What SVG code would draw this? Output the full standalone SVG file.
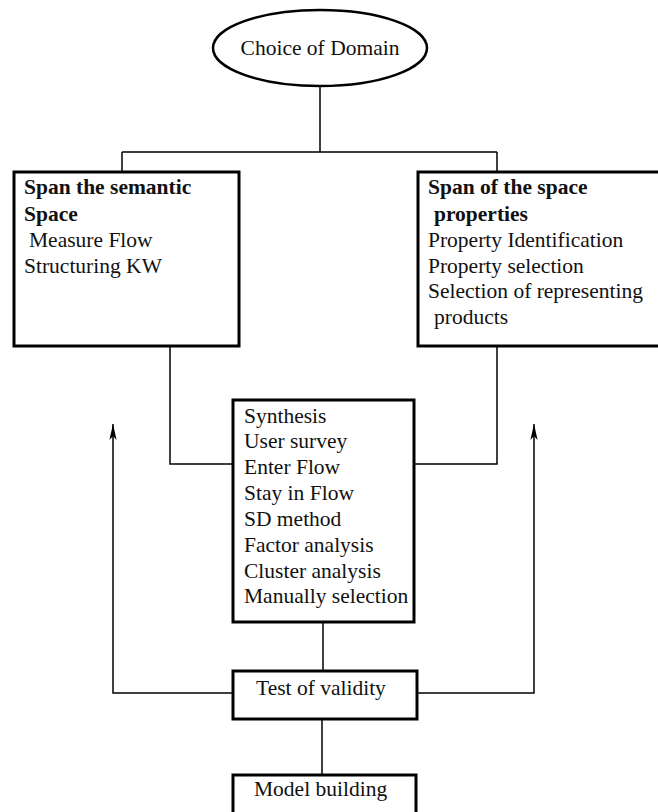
<svg xmlns="http://www.w3.org/2000/svg" width="658" height="812" viewBox="0 0 658 812">
  <style>
    .box { fill: #ffffff; stroke: #000000; stroke-width: 3; }
    .oval { fill: #ffffff; stroke: #000000; stroke-width: 2.5; }
    .wire { fill: none; stroke: #000000; stroke-width: 1.5; }
    .t { font-family: "Liberation Serif", "Times New Roman", serif; font-size: 21.5px; fill: #111111; }
    .b { font-weight: bold; }
  </style>
  <defs>
    <!-- narrow filled arrowhead with a notched back, tip on the path end -->
    <marker id="head" viewBox="0 0 16 8" refX="16" refY="4" markerWidth="16" markerHeight="8" markerUnits="userSpaceOnUse" orient="auto">
      <path d="M16 4 L0 7.6 L4 4 L0 0.4 Z" fill="#000000"/>
    </marker>
  </defs>
  <rect width="658" height="812" fill="#ffffff"/>

  <!-- connectors -->
  <g id="connectors">
    <path class="wire" d="M320 86 V152 M122 152 H497 M122 152 V172 M497 152 V172"/>
    <path class="wire" d="M170 346 V464 H233"/>
    <path class="wire" d="M497 346 V464 H414"/>
    <path class="wire" d="M323 622 V671"/>
    <path class="wire" d="M322 719 V775"/>
    <path class="wire" d="M233 693 H113 V424" marker-end="url(#head)"/>
    <path class="wire" d="M417 693 H534 V424" marker-end="url(#head)"/>
  </g>

  <g id="domain">
    <ellipse class="oval" cx="320" cy="48" rx="107" ry="38"/>
    <text class="t" x="320" y="55" text-anchor="middle">Choice of Domain</text>
  </g>

  <g id="semantic-space">
    <rect class="box" x="14" y="172" width="225" height="174"/>
    <text class="t b" x="24" y="194">Span the semantic</text>
    <text class="t b" x="24" y="221">Space</text>
    <text class="t" x="29" y="247">Measure Flow</text>
    <text class="t" x="24" y="273">Structuring KW</text>
  </g>

  <g id="space-properties">
    <rect class="box" x="418" y="172" width="250" height="174"/>
    <text class="t b" x="428" y="194">Span of the space</text>
    <text class="t b" x="434" y="221">properties</text>
    <text class="t" x="428" y="247">Property Identification</text>
    <text class="t" x="428" y="273">Property selection</text>
    <text class="t" x="428" y="298">Selection of representing</text>
    <text class="t" x="434" y="324">products</text>
  </g>

  <g id="synthesis">
    <rect class="box" x="233" y="400" width="181" height="222"/>
    <text class="t" x="244" y="423">Synthesis</text>
    <text class="t" x="244" y="448">User survey</text>
    <text class="t" x="244" y="474">Enter Flow</text>
    <text class="t" x="244" y="500">Stay in Flow</text>
    <text class="t" x="244" y="526">SD method</text>
    <text class="t" x="244" y="552">Factor analysis</text>
    <text class="t" x="244" y="578">Cluster analysis</text>
    <text class="t" x="244" y="603">Manually selection</text>
  </g>

  <g id="validity">
    <rect class="box" x="233" y="671" width="184" height="48"/>
    <text class="t" x="256" y="695">Test of validity</text>
  </g>

  <g id="model">
    <rect class="box" x="233" y="775" width="183" height="50"/>
    <text class="t" x="254" y="796">Model building</text>
  </g>
</svg>
